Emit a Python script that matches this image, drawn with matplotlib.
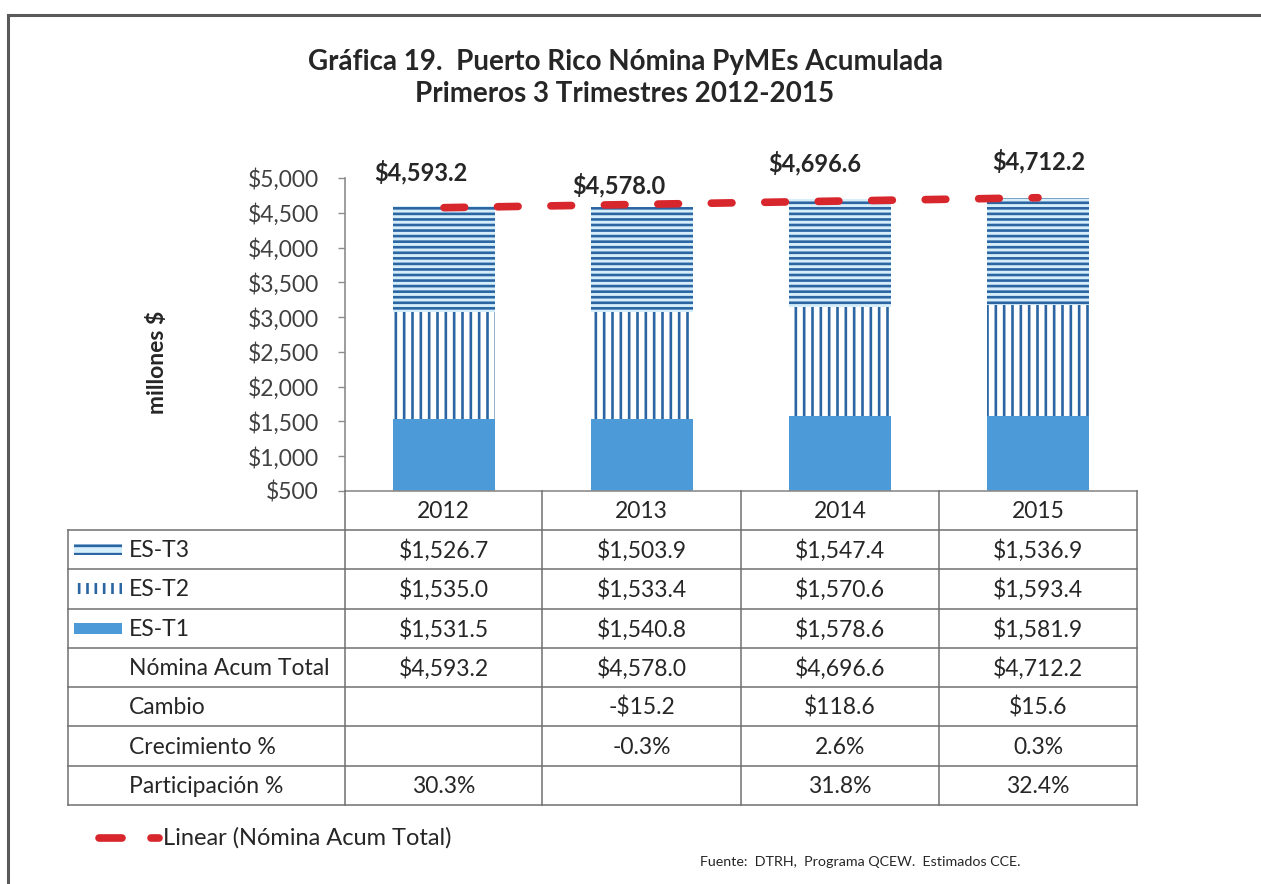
import matplotlib
matplotlib.use('Agg')
import matplotlib.pyplot as plt
import numpy as np
from matplotlib.patches import Rectangle

# ---------------- data ----------------
years = ['2012', '2013', '2014', '2015']
es_t1 = [1531.5, 1540.8, 1578.6, 1581.9]
es_t2 = [1535.0, 1533.4, 1570.6, 1593.4]
es_t3 = [1526.7, 1503.9, 1547.4, 1536.9]
total = [4593.2, 4578.0, 4696.6, 4712.2]
cambio = ['', '-$15.2', '$118.6', '$15.6']
crecimiento = ['', '-0.3%', '2.6%', '0.3%']
participacion = ['30.3%', '', '31.8%', '32.4%']
yticks = [500, 1000, 1500, 2000, 2500, 3000, 3500, 4000, 4500, 5000]
row_labels = ['ES-T3', 'ES-T2', 'ES-T1', 'Nómina Acum Total', 'Cambio',
              'Crecimiento %', 'Participación %']
title = 'Gráfica 19.  Puerto Rico Nómina PyMEs Acumulada\nPrimeros 3 Trimestres 2012-2015'
ylabel = 'millones $'
legend_label = 'Linear (Nómina Acum Total)'
source = 'Fuente:  DTRH,  Programa QCEW.  Estimados CCE.'

# ---------------- style ----------------
FONT = 'Lato'
plt.rcParams['font.family'] = [FONT, 'DejaVu Sans']
plt.rcParams['hatch.linewidth'] = 1.9
C1 = '#4c9bd8'
HATCH = '#2b66a3'
C3 = '#d6eefa'
RED = '#d8262d'
TXT = '#262626'
GRID = '#8c8c8c'

W, H = 1261, 884
fig = plt.figure(figsize=(W / 100, H / 100), dpi=100)
fig.patch.set_facecolor('white')

# main chart axes (pixel layout)
ax_l, ax_r, ax_t, ax_b = 345, 1137, 178, 491
ax = fig.add_axes([ax_l / W, 1 - ax_b / H, (ax_r - ax_l) / W, (ax_b - ax_t) / H])
x = np.arange(len(years))
bw = 0.52
t1 = np.array(es_t1)
t2 = np.array(es_t2)
t3 = np.array(es_t3)
ax.bar(x, t1, width=bw, color=C1, linewidth=0, zorder=2)
ax.bar(x, t2, bottom=t1, width=bw, facecolor='white', edgecolor=HATCH,
       hatch='||', linewidth=0, zorder=2)
ax.bar(x, t3, bottom=t1 + t2, width=bw, facecolor=C3, edgecolor=HATCH,
       hatch='---', linewidth=0, zorder=2)

# linear trend of totals
coef = np.polyfit(x, total, 1)
tx = np.array([0.0, 3.0])
trend, = ax.plot(tx, np.polyval(coef, tx), color=RED, linewidth=5.5,
                 dash_capstyle='round', zorder=4, clip_on=False)
trend.set_dashes((2.7, 4.3))

# data labels above bars (manually placed, as in the original)
lab_dx = [-0.116, -0.116, -0.126, 0.005]
lab_dy = [493, 321, 519, 532]
for i, v in enumerate(total):
    ax.text(x[i] + lab_dx[i], v + lab_dy[i], f'${v:,.1f}', ha='center', va='center',
            fontsize=17, fontweight='bold', color=TXT, clip_on=False)

ax.set_xlim(-0.5, len(years) - 0.5)
ax.set_ylim(500, 5000)
ax.set_yticks(yticks)
ax.set_yticklabels([f'${v:,}' for v in yticks])
ax.set_xticks([])
ax.tick_params(axis='y', direction='out', length=5, width=1, color=GRID,
               labelsize=16.5, labelcolor='#404040', pad=14)
for s in ['top', 'right']:
    ax.spines[s].set_visible(False)
for s in ['left', 'bottom']:
    ax.spines[s].set_color(GRID)
    ax.spines[s].set_linewidth(1.2)
ax.patch.set_visible(False)

# overlay for table, titles and frame (pixel coordinates)
ov = fig.add_axes([0, 0, 1, 1], zorder=5)
ov.set_xlim(0, W)
ov.set_ylim(H, 0)
ov.axis('off')
ov.patch.set_visible(False)

# frame
ov.plot([8, W], [15, 15], color='#5a5a5a', lw=2.2)
ov.plot([8, 8], [15, H], color='#5a5a5a', lw=2.2)

# title
ov.text(625, 78, title, ha='center', va='center', fontsize=20, fontweight='bold',
        color=TXT, linespacing=1.3)
# y label
ov.text(158, 362, ylabel, rotation=90, ha='center', va='center', fontsize=16.5,
        fontweight='bold', color=TXT)

# table
lab_l = 68
col_edges = [345, 542, 741, 939, 1137]
hdr_top, row0 = 491, 530
rh = (805 - 530) / len(row_labels)
row_edges = [row0 + i * rh for i in range(len(row_labels) + 1)]
lc = '#707070'
for xe in col_edges:
    ov.plot([xe, xe], [hdr_top, row_edges[-1]], color=lc, lw=1.1)
ov.plot([lab_l, lab_l], [row0, row_edges[-1]], color=lc, lw=1.1)
for ye in row_edges:
    ov.plot([lab_l, col_edges[-1]], [ye, ye], color=lc, lw=1.1)

fs = 16.5
for j, yr in enumerate(years):
    cx = (col_edges[j] + col_edges[j + 1]) / 2
    ov.text(cx, (hdr_top + row0) / 2 + 1, yr, ha='center', va='center',
            fontsize=fs, color=TXT)

values = [
    [f'${v:,.1f}' for v in es_t3],
    [f'${v:,.1f}' for v in es_t2],
    [f'${v:,.1f}' for v in es_t1],
    [f'${v:,.1f}' for v in total],
    cambio, crecimiento, participacion,
]
for i, lab in enumerate(row_labels):
    cy = (row_edges[i] + row_edges[i + 1]) / 2 + 1
    ov.text(129, cy, lab, ha='left', va='center', fontsize=fs, color=TXT)
    for j in range(len(years)):
        cx = (col_edges[j] + col_edges[j + 1]) / 2
        ov.text(cx, cy, values[i][j], ha='center', va='center', fontsize=fs, color=TXT)

# legend keys inside table
def key_rect(i, **kw):
    cy = (row_edges[i] + row_edges[i + 1]) / 2
    ov.add_patch(Rectangle((74, cy - 5.5), 48, 11, **kw))

key_rect(0, facecolor=C3, edgecolor=HATCH, hatch='--', linewidth=0)
key_rect(1, facecolor='white', edgecolor=HATCH, hatch='||', linewidth=0)
key_rect(2, facecolor=C1, linewidth=0)

# trend legend
ov.plot([99, 122], [838, 838], color=RED, lw=5.5, solid_capstyle='round')
ov.plot([151, 159], [838, 838], color=RED, lw=5.5, solid_capstyle='round')
ov.text(163, 838, legend_label, ha='left', va='center', fontsize=17, color=TXT)

# source
ov.text(860, 862, source, ha='center', va='center', fontsize=10.3, color=TXT)

fig.savefig('out.png', dpi=100)
